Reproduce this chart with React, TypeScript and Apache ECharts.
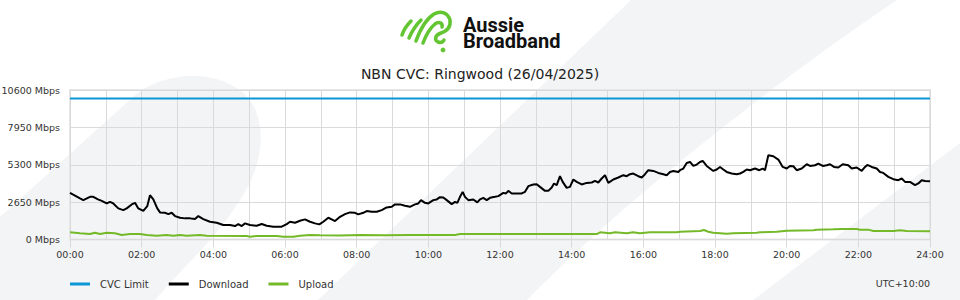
import React, { useEffect, useRef } from 'react';
import * as echarts from 'echarts';

// ---------- data ----------
const seriesNames = ['CVC Limit', 'Download', 'Upload'];
const cvcHours = [0, 24];
const cvcMbps = [10000, 10000];

const downloadHours = [
  0.0, 0.279, 0.371, 0.558, 0.65, 0.781, 0.885, 1.024, 1.116, 1.208, 1.348, 1.487, 1.582, 1.722, 1.814, 1.906,
  2.046, 2.157, 2.233, 2.325, 2.436, 2.512, 2.651, 2.743, 2.838, 2.93, 3.07, 3.209, 3.349, 3.488, 3.581, 3.72,
  3.907, 4.094, 4.278, 4.465, 4.605, 4.697, 4.792, 4.884, 5.023, 5.21, 5.35, 5.489, 5.674, 5.908, 6.048, 6.14,
  6.279, 6.419, 6.558, 6.698, 6.837, 6.957, 7.069, 7.208, 7.303, 7.395, 7.535, 7.674, 7.814, 7.953, 8.046, 8.185,
  8.28, 8.42, 8.559, 8.699, 8.838, 8.978, 9.07, 9.209, 9.349, 9.488, 9.628, 9.72, 9.795, 9.907, 9.999, 10.139,
  10.234, 10.326, 10.418, 10.513, 10.652, 10.744, 10.809, 10.884, 10.959, 11.023, 11.116, 11.255, 11.367, 11.442,
  11.534, 11.629, 11.721, 11.86, 11.953, 12.092, 12.167, 12.232, 12.327, 12.466, 12.606, 12.698, 12.79, 12.93,
  13.024, 13.116, 13.256, 13.348, 13.443, 13.507, 13.583, 13.674, 13.75, 13.861, 13.953, 14.046, 14.141, 14.28,
  14.42, 14.559, 14.651, 14.743, 14.838, 14.93, 15.023, 15.162, 15.302, 15.441, 15.536, 15.628, 15.72, 15.86,
  15.955, 16.047, 16.139, 16.279, 16.418, 16.558, 16.652, 16.744, 16.837, 16.976, 17.023, 17.116, 17.21, 17.302,
  17.395, 17.489, 17.581, 17.656, 17.768, 17.952, 18.047, 18.14, 18.232, 18.325, 18.466, 18.605, 18.698, 18.79,
  18.885, 18.977, 19.116, 19.237, 19.331, 19.395, 19.488, 19.628, 19.767, 19.89, 20.001, 20.093, 20.186, 20.281,
  20.42, 20.56, 20.652, 20.791, 20.884, 21.007, 21.118, 21.209, 21.321, 21.441, 21.564, 21.72, 21.815, 21.954,
  22.094, 22.186, 22.25, 22.373, 22.513, 22.605, 22.697, 22.837, 22.977, 23.116, 23.211, 23.303, 23.442, 23.582,
  23.674, 23.769, 23.861, 24.0,
];
const downloadMbps = [
  3307, 2912, 2791, 3025, 3025, 2841, 2742, 2558, 2671, 2558, 2205, 2085, 2205, 2488, 2601, 2205,
  2035, 2367, 3145, 2841, 2205, 1922, 1894, 1802, 1894, 1661, 1541, 1498, 1498, 1449, 1661, 1449,
  1258, 1187, 1025, 1025, 954, 1095, 954, 1145, 1025, 975, 1095, 975, 905, 905, 1095, 1258,
  1187, 1329, 1428, 1258, 1145, 1074, 1258, 1541, 1428, 1307, 1611, 1802, 1922, 1894, 1781, 1894,
  2014, 1965, 1965, 2085, 2276, 2318, 2488, 2488, 2389, 2318, 2488, 2558, 2791, 2601, 2558, 2791,
  2841, 3003, 2982, 2791, 2509, 2671, 2601, 3025, 3378, 3025, 2791, 2841, 2629, 2841,
  2954, 2791, 2954, 3025, 3074, 3307, 3265, 3449, 3265, 3265, 3265, 3378, 3781, 3901,
  3922, 3731, 3449, 3449, 3689, 3972, 3852, 4487, 4085, 3661, 3731, 4254, 4085, 3901,
  4014, 4042, 4155, 4042, 4325, 4558, 4014, 4254, 4396, 4558, 4487, 4629, 4678, 4487,
  4396, 4629, 4912, 4862, 4721, 4629, 4558, 4791, 4862, 4791, 4912, 5032, 5427, 5498,
  5215, 5314, 5498, 5569, 5215, 4862, 4961, 5145, 4961, 4791, 4678, 4629, 4678, 4791,
  4961, 4912, 5032, 4912, 5032, 4912, 5972, 5901, 5668, 5145, 5032, 5215, 5194, 4912,
  5032, 5336, 5215, 5265, 5385, 5215, 5265, 5336, 5145, 5102, 5336, 5265, 5032, 5102,
  4862, 5145, 5286, 5145, 5032, 4791, 4721, 4438, 4275, 4205, 4325, 4085, 4085, 3852,
  3972, 4205, 4155, 4134,
];

const uploadHours = [
  0.0, 0.279, 0.558, 0.698, 0.837, 1.024, 1.256, 1.443, 1.674, 1.953, 2.14, 2.42, 2.699, 2.883, 3.07, 3.257,
  3.628, 3.815, 4.931, 5.023, 5.21, 5.768, 5.953, 6.232, 6.419, 6.698, 6.977, 7.535, 8.093, 8.791, 9.488,
  10.744, 10.884, 13.116, 14.7, 14.791, 15.07, 15.209, 15.535, 15.712, 15.907, 16.186, 16.931, 17.023, 17.581,
  17.693, 17.813, 17.953, 18.326, 18.511, 19.164, 19.256, 19.722, 20.001, 20.744, 20.837, 21.302, 21.581,
  21.954, 22.047, 22.279, 22.419, 22.977, 23.163, 23.35, 24.0,
];
const uploadMbps = [
  509, 438, 389, 481, 389, 481, 438, 318, 389, 389, 318, 269, 318, 269, 318, 269,
  318, 269, 247, 198, 247, 247, 198, 198, 269, 318, 300, 280, 318, 300, 318,
  318, 389, 389, 389, 509, 438, 509, 438, 509, 438, 509, 509, 551, 601,
  671, 551, 481, 410, 438, 481, 509, 551, 622, 650, 690, 721, 742,
  742, 690, 700, 601, 601, 650, 601, 580,
];

const yTicks = [0, 2650, 5300, 7950, 10600];
const hourTickLabels = ['00:00', '02:00', '04:00', '06:00', '08:00', '10:00', '12:00', '14:00', '16:00', '18:00', '20:00', '22:00', '24:00'];

const titleText = 'NBN CVC: Ringwood (26/04/2025)';
const timezoneText = 'UTC+10:00';
const brandText = 'Aussie\nBroadband';

// ---------- decorative shapes ----------
const LEAF_D = 'M0 217L133 97C160 72 220 66 248 98C268 122 264 165 240 200C215 240 185 265 155 300L0 300Z';
const BAND_D = 'M631 0L897 0C800 65 640 185 527 300L318 300Z';
const TRI_D = 'M960 143L960 300L753 300Z';
const LOGO_D =
  'M402 35C404 29 407 25 411 21' +
  'M409 38C412 31 416 25 421 20' +
  'M416 41C420 30 426 19 434 14C441 10 448 13 450 20C451 27 447 31 441 33C435 35 434 40 438 42C441 43 443 42 444 40' +
  'M423 43C426 35 430 28 435 24C439 21 443 23 442 27';

echarts.graphic.registerShape('bgLeaf', echarts.graphic.extendPath(LEAF_D, {}));
echarts.graphic.registerShape('bgBand', echarts.graphic.extendPath(BAND_D, {}));
echarts.graphic.registerShape('bgTri', echarts.graphic.extendPath(TRI_D, {}));
echarts.graphic.registerShape('abbLogo', echarts.graphic.extendPath(LOGO_D, {}));

const FONT = 'DejaVu Sans';
const GRID_COLOR = '#dadada';
const BG_SHAPE = '#f3f4f6';
const LOGO_GREEN = '#62c531';
const LABEL_SIZE = 9.5;

const pairs = (xs: number[], ys: number[]) => xs.map((x, i) => [x, ys[i]]);

export default function App() {
  const ref = useRef<HTMLDivElement>(null);
  useEffect(() => {
    if (!ref.current) return;
    const chart = echarts.init(ref.current, undefined, { renderer: 'svg' });
    const option: any = {
      animation: false,
      backgroundColor: '#ffffff',
      textStyle: { fontFamily: FONT },
      title: {
        text: titleText,
        left: 'center',
        top: 62,
        textStyle: { fontSize: 14, fontWeight: 'normal', color: '#222', fontFamily: FONT },
      },
      legend: {
        data: seriesNames,
        left: 65,
        top: 274,
        icon: 'rect',
        itemWidth: 20,
        itemHeight: 3,
        itemGap: 20,
        textStyle: { fontSize: 10, color: '#333', fontFamily: FONT, padding: [0, 0, 0, 5] },
      },
      grid: {
        left: 70,
        right: 30,
        top: 90,
        bottom: 60.5,
        show: true,
        borderColor: '#e6e6e6',
        borderWidth: 2,
        backgroundColor: 'transparent',
        outerBoundsMode: 'none',
        containLabel: false,
      },
      xAxis: {
        type: 'value',
        min: 0,
        max: 24,
        interval: 2,
        axisLine: { show: false },
        axisTick: { show: true, length: 8, lineStyle: { color: GRID_COLOR } },
        axisLabel: {
          fontSize: LABEL_SIZE,
          color: '#333',
          fontFamily: FONT,
          margin: 10,
          formatter: (v: number) => hourTickLabels[Math.round(v / 2)] ?? '',
        },
        splitLine: { show: true, lineStyle: { color: GRID_COLOR, width: 1 } },
        minorTick: { show: false, splitNumber: 2 },
        minorSplitLine: { show: true, lineStyle: { color: GRID_COLOR, width: 1 } },
      },
      yAxis: {
        type: 'value',
        min: yTicks[0],
        max: yTicks[yTicks.length - 1],
        interval: yTicks[1] - yTicks[0],
        axisLine: { show: false },
        axisTick: { show: false },
        axisLabel: {
          fontSize: LABEL_SIZE,
          color: '#333',
          fontFamily: FONT,
          margin: 10,
          formatter: (v: number) => `${v} Mbps`,
        },
        splitLine: { show: true, lineStyle: { color: GRID_COLOR, width: 1 } },
      },
      series: [
        {
          name: seriesNames[0],
          type: 'line',
          data: pairs(cvcHours, cvcMbps),
          showSymbol: false,
          symbol: 'none',
          color: '#0b96d6',
          lineStyle: { color: '#0b96d6', width: 2 },
        },
        {
          name: seriesNames[1],
          type: 'line',
          data: pairs(downloadHours, downloadMbps),
          showSymbol: false,
          symbol: 'none',
          color: '#000000',
          lineStyle: { color: '#000000', width: 2 },
        },
        {
          name: seriesNames[2],
          type: 'line',
          data: pairs(uploadHours, uploadMbps),
          showSymbol: false,
          symbol: 'none',
          color: '#74b928',
          lineStyle: { color: '#74b928', width: 2 },
        },
      ],
      graphic: [
        { type: 'bgLeaf', x: 0, y: 0, z: -100, silent: true, style: { fill: BG_SHAPE } },
        { type: 'bgBand', x: 0, y: 0, z: -100, silent: true, style: { fill: BG_SHAPE } },
        { type: 'bgTri', x: 0, y: 0, z: -100, silent: true, style: { fill: BG_SHAPE } },
        {
          type: 'abbLogo',
          x: 0,
          y: 0,
          z: 10,
          silent: true,
          style: { fill: 'none', stroke: LOGO_GREEN, lineWidth: 3.5, lineCap: 'round', lineJoin: 'round' },
        },
        { type: 'circle', z: 10, silent: true, shape: { cx: 443, cy: 50, r: 2.4 }, style: { fill: LOGO_GREEN } },
        {
          type: 'text',
          x: 463,
          y: 17,
          z: 10,
          silent: true,
          style: {
            text: brandText, fontFamily: 'Roboto', fontWeight: 'bold', fontSize: 20, lineHeight: 16,
            fill: '#111', verticalAlign: 'top',
          },
        },
        {
          type: 'text',
          right: 30,
          top: 278,
          z: 10,
          silent: true,
          style: { text: timezoneText, fontFamily: FONT, fontSize: LABEL_SIZE, fill: '#333' },
        },
      ],
    };
    chart.setOption(option);
    return () => chart.dispose();
  }, []);
  return (
    <div
      ref={ref}
      style={{ position: 'fixed', left: 0, top: 0, width: 960, height: 300 }}
    />
  );
}
